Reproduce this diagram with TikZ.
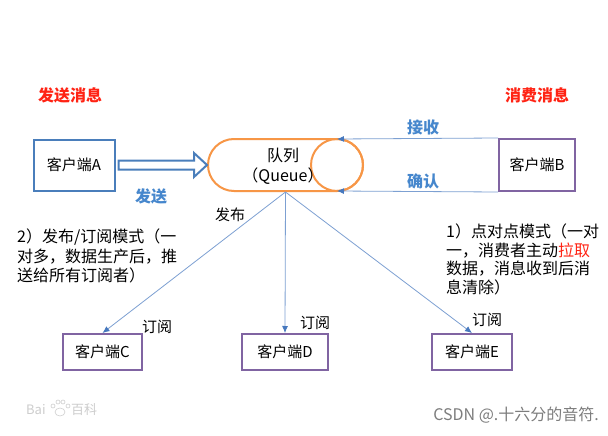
\documentclass[tikz,border=0pt]{standalone}
\usepackage{fontspec}
\setmainfont{Noto Sans CJK SC}
\usetikzlibrary{shapes.misc,arrows.meta,calc}
\definecolor{boxblue}{RGB}{74,126,187}
\definecolor{boxpurple}{RGB}{128,100,162}
\definecolor{qorange}{RGB}{247,150,70}
\definecolor{lblblue}{RGB}{70,135,205}
\definecolor{lnblue}{RGB}{125,160,210}
\definecolor{tipblue}{RGB}{70,120,190}
\definecolor{tred}{RGB}{255,35,20}
\definecolor{wmgray}{RGB}{125,125,125}
\definecolor{bdgray}{RGB}{205,205,205}
\begin{document}
\begin{tikzpicture}[x=1pt,y=-1pt,
  clientbox/.style={draw=boxpurple, line width=2pt, font=\fontsize{15}{15}\selectfont, inner sep=0pt},
  redtitle/.style={text=tred, font=\fontsize{16}{16}\selectfont\bfseries, inner sep=0pt},
  bluelbl/.style={text=lblblue, font=\fontsize{16}{16}\selectfont\bfseries, inner sep=0pt},
  plainlbl/.style={font=\fontsize{15}{15}\selectfont, inner sep=0pt},
  conn/.style={draw=lnblue, line width=0.8pt, -{Latex[length=7pt,width=6pt,color=tipblue]}},
  hollow/.style={draw=boxblue, line width=2pt, fill=white, line join=miter},
  note/.style={font=\fontsize{16}{19.5}\selectfont, align=left, inner sep=0pt, anchor=north west}
]
\useasboundingbox (0,0) rectangle (608,436);
\fill[white] (0,0) rectangle (608,436);

% titles
\node[redtitle] (t1) at (70,95) {发送消息};
\node[redtitle] (t2) at (537,95) {消费消息};

% clients
\node[clientbox, draw=boxblue, minimum width=81pt, minimum height=51pt] (A) at (74,165) {客户端A};
\node[clientbox, minimum width=76pt, minimum height=52pt] (B) at (537,165) {客户端B};
\node[clientbox, minimum width=79pt, minimum height=36pt] (C) at (102.5,352) {客户端C};
\node[clientbox, minimum width=86pt, minimum height=36pt] (D) at (285,352) {客户端D};
\node[clientbox, minimum width=80pt, minimum height=36pt] (E) at (472,352) {客户端E};

% queue
\node[rounded rectangle, draw=qorange, line width=2pt, minimum width=155pt, minimum height=52pt, inner sep=0pt] (Q) at (285.5,165) {};
\node[circle, draw=qorange, line width=2pt, minimum size=52pt, inner sep=0pt, outer sep=0pt] (R) at (337,165) {};
\node[font=\fontsize{16}{20}\selectfont, align=center, inner sep=0pt] (qt) at (283,166) {队列\\（Queue）};

% hollow send arrow
\draw[hollow] ($(A.east)+(3,-4.5)$) -- ($(Q.west)+(-13,-4.5)$) -- ($(Q.west)+(-13,-12)$)
  -- (Q.west) -- ($(Q.west)+(-13,12)$) -- ($(Q.west)+(-13,4.5)$) -- ($(A.east)+(3,4.5)$) -- cycle;
\node[bluelbl] (ls) at (151,196) {发送};

% B to queue
\draw[conn] (B.north west) -- (R.north);
\draw[conn] (B.south west) -- (R.south);
\node[bluelbl] (lr) at (423,127) {接收};
\node[bluelbl] (lc) at (423,181) {确认};

% publish lines
\draw[conn] (Q.south) -- (C.north);
\draw[conn] (Q.south) -- (D.north);
\draw[conn] (Q.south) -- (E.north);
\node[plainlbl] (lp) at (230,215) {发布};
\node[plainlbl] (s1) at (157,327) {订阅};
\node[plainlbl] (s2) at (315,323) {订阅};
\node[plainlbl] (s3) at (487,320) {订阅};

% notes
\node[note] (n2) at (17,229) {2）发布/订阅模式（一\\对多，数据生产后，推\\送给所有订阅者）};
\node[note, font=\fontsize{16}{18.5}\selectfont] (n1) at (446,224) {1）点对点模式（一对\\一，消费者主动\textcolor{tred}{拉取}\\数据，消息收到后消\\息清除）};

% watermarks
\node[text=bdgray, font=\fontsize{13}{13}\selectfont, inner sep=0pt, anchor=west] (bd1) at (26,410) {Bai};
\draw[bdgray, line width=0.6pt] (60,412) ellipse (5pt and 4pt);
\draw[bdgray, line width=0.6pt] (53,406) circle (2pt) (58,402) circle (2pt) (63,402) circle (2pt) (68,406) circle (2pt);
\node[text=bdgray, font=\fontsize{13}{13}\selectfont, inner sep=0pt, anchor=west] (bd2) at (71,410) {百科};
\node[text=wmgray, font=\fontsize{16}{16}\selectfont, inner sep=0pt, anchor=east] (wm) at (599,415) {CSDN @.十六分的音符.};
\end{tikzpicture}
\end{document}
